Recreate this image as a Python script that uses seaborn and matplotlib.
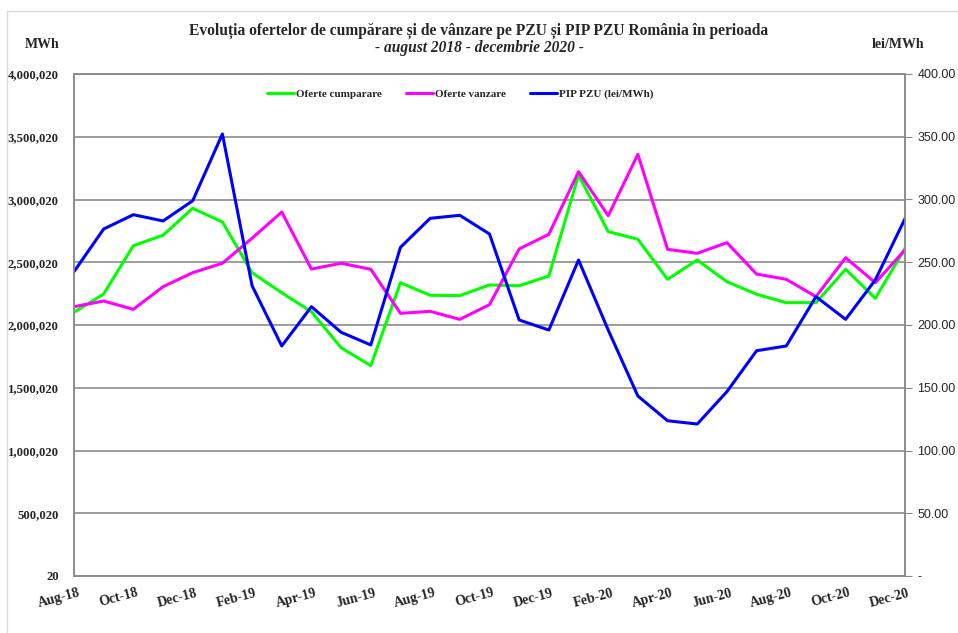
import numpy as np
import pandas as pd
import matplotlib
matplotlib.use("Agg")
import matplotlib.pyplot as plt
import matplotlib.transforms as mtransforms
import seaborn as sns
from matplotlib.ticker import FuncFormatter

months = ["Aug-18", "Sep-18", "Oct-18", "Nov-18", "Dec-18", "Jan-19", "Feb-19",
          "Mar-19", "Apr-19", "May-19", "Jun-19", "Jul-19", "Aug-19", "Sep-19",
          "Oct-19", "Nov-19", "Dec-19", "Jan-20", "Feb-20", "Mar-20", "Apr-20",
          "May-20", "Jun-20", "Jul-20", "Aug-20", "Sep-20", "Oct-20", "Nov-20",
          "Dec-20"]

oferte_cumparare = [2101000, 2247000, 2632000, 2715000, 2930000, 2821000, 2417000,
                    2257000, 2106000, 1819000, 1676000, 2337000, 2237000, 2234000,
                    2319000, 2313000, 2390000, 3195000, 2744000, 2683000, 2364000,
                    2518000, 2345000, 2245000, 2178000, 2178000, 2444000, 2213000,
                    2611000]

oferte_vanzare = [2146000, 2191000, 2125000, 2305000, 2417000, 2492000, 2691000,
                  2900000, 2446000, 2492000, 2444000, 2093000, 2109000, 2045000,
                  2162000, 2606000, 2723000, 3222000, 2871000, 3360000, 2603000,
                  2571000, 2656000, 2406000, 2364000, 2226000, 2536000, 2337000,
                  2598000]

pip_pzu = [242.5, 276.5, 287.9, 282.9, 299.0, 352.2, 231.3, 183.3, 214.6, 194.2,
           184.1, 261.9, 285.0, 287.4, 272.5, 204.0, 196.0, 251.8, 196.0, 143.4,
           123.7, 121.1, 146.9, 179.5, 183.3, 222.6, 204.5, 235.9, 284.7]

left_ticks = [20 + 500000 * k for k in range(9)]
right_ticks = [50 * k for k in range(9)]

GREEN = "#00FF00"
MAGENTA = "#FF00FF"
BLUE = "#0000FF"
GRID = "#8C8C8C"

sns.set_style("white")
plt.rcParams["font.family"] = ["Liberation Serif", "DejaVu Serif"]

df = pd.DataFrame({"idx": np.arange(len(months)),
                   "cump": oferte_cumparare,
                   "vanz": oferte_vanzare,
                   "pip": pip_pzu})

fig = plt.figure(figsize=(9.58, 6.33), dpi=100)
ax = fig.add_axes([74 / 958, 1 - 576 / 633, (905 - 74) / 958, (576 - 74) / 633])
ax2 = ax.twinx()

sns.lineplot(data=df, x="idx", y="cump", ax=ax, color=GREEN, lw=2.2,
             label="Oferte cumparare", legend=False)
sns.lineplot(data=df, x="idx", y="vanz", ax=ax, color=MAGENTA, lw=2.2,
             label="Oferte vanzare", legend=False)
sns.lineplot(data=df, x="idx", y="pip", ax=ax2, color=BLUE, lw=2.2,
             label="PIP PZU (lei/MWh)", legend=False)

# left axis
ax.set_ylim(left_ticks[0], left_ticks[-1])
ax.set_yticks(left_ticks)
ax.yaxis.set_major_formatter(FuncFormatter(lambda v, p: f"{int(round(v)):,}"))
ax.tick_params(axis="y", length=0, pad=11, labelsize=9.2)
for t in ax.get_yticklabels():
    t.set_fontweight("bold")
ax.grid(axis="y", color=GRID, lw=1.2)
ax.grid(axis="x", visible=False)
ax.set_xlabel("")
ax.set_ylabel("")

# x axis - labels slanted and shifted left like the original
ax.set_xlim(0, len(months) - 1)
ax.set_xticks(df["idx"][::2])
ax.set_xticklabels(months[::2], rotation=15, fontweight="bold", fontsize=10)
ax.tick_params(axis="x", length=0, pad=6)
shift = mtransforms.ScaledTranslation(-15 / 100, -2 / 100, fig.dpi_scale_trans)
for t in ax.get_xticklabels():
    t.set_transform(t.get_transform() + shift)

# right axis
ax2.set_ylim(right_ticks[0], right_ticks[-1])
ax2.set_yticks(right_ticks)
ax2.yaxis.set_major_formatter(FuncFormatter(lambda v, p: "-" if v == 0 else f"{v:.2f}"))
ax2.tick_params(axis="y", length=5, color=GRID, pad=4, labelsize=9)
for t in ax2.get_yticklabels():
    t.set_fontfamily("Liberation Sans")
ax2.set_ylabel("")
ax2.grid(False)

for a in (ax, ax2):
    for s in a.spines.values():
        s.set_color(GRID)
        s.set_linewidth(1.2)

# legend
handles = ax.get_lines()[:2] + ax2.get_lines()[:1]
leg = ax.legend(handles, [h.get_label() for h in handles], loc="upper center",
                bbox_to_anchor=(0.465, 0.99), ncol=3, frameon=False,
                prop={"weight": "bold", "size": 8}, handlelength=2.4,
                columnspacing=2.2, handletextpad=0.2)

# titles and units
fig.text(0.5, 1 - 31 / 633, "Evoluția ofertelor de cumpărare și de vânzare pe PZU și PIP PZU România în perioada",
         ha="center", va="center", fontsize=11.2, fontweight="bold")
fig.text(0.5, 1 - 48 / 633, "- august 2018 - decembrie 2020 -",
         ha="center", va="center", fontsize=11.2, fontweight="bold", style="italic")
fig.text(42 / 958, 1 - 45 / 633, "MWh", ha="center", va="center",
         fontsize=10, fontweight="bold")
fig.text(898 / 958, 1 - 45 / 633, "lei/MWh", ha="center", va="center",
         fontsize=10, fontweight="bold")

# chart-area frame
fig.add_artist(plt.Line2D([7 / 958, 7 / 958], [0, 1 - 11 / 633], color="#D9D9D9", lw=1))
fig.add_artist(plt.Line2D([7 / 958, 1], [1 - 11 / 633, 1 - 11 / 633], color="#D9D9D9", lw=1))

fig.savefig("out.png", dpi=100)
